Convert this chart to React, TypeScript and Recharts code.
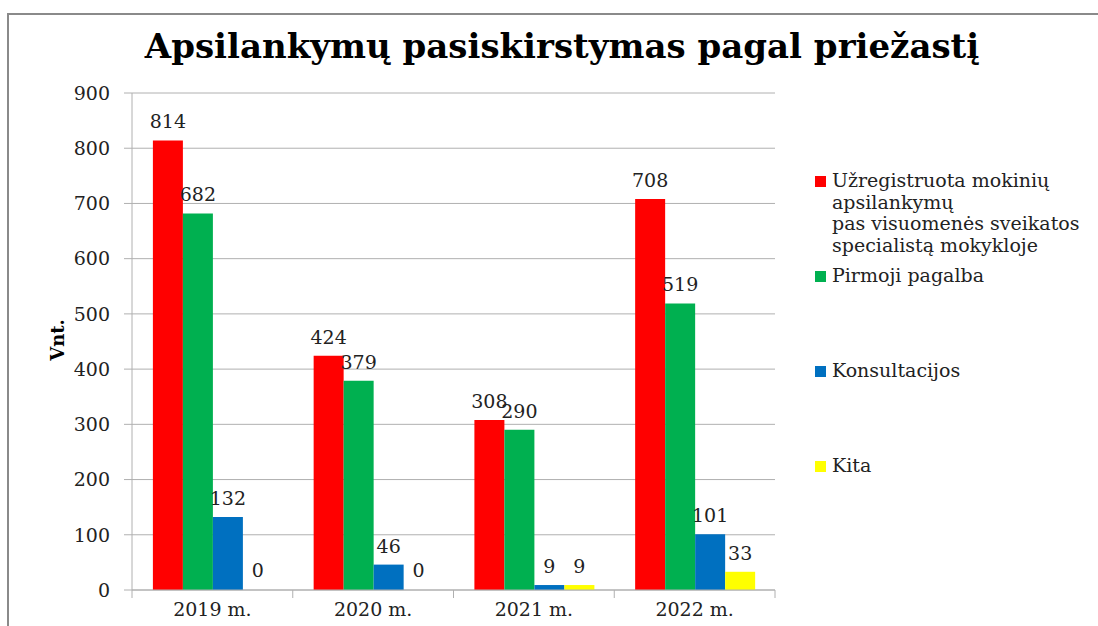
import { Bar, BarChart, CartesianGrid, Cell, LabelList, XAxis, YAxis } from 'recharts';

const years = ['2019 m.', '2020 m.', '2021 m.', '2022 m.'];
const registered = [814, 424, 308, 708];
const firstAid = [682, 379, 290, 519];
const consultations = [132, 46, 9, 101];
const other = [0, 0, 9, 33];
const yTicks = [0, 100, 200, 300, 400, 500, 600, 700, 800, 900];

const series = [
  { key: 'registered', name: 'Užregistruota mokinių\napsilankymų\npas visuomenės sveikatos\nspecialistą mokykloje', color: '#FF0000', values: registered },
  { key: 'firstAid', name: 'Pirmoji pagalba', color: '#00B050', values: firstAid },
  { key: 'consultations', name: 'Konsultacijos', color: '#0070C0', values: consultations },
  { key: 'other', name: 'Kita', color: '#FFFF00', values: other },
];

const data = years.map((year, i) => ({
  year,
  registered: registered[i],
  firstAid: firstAid[i],
  consultations: consultations[i],
  other: other[i],
}));

const W = 1098;
const H = 626;
const M = { top: 93, right: 323, left: 0, bottom: 0 };
const Y_W = 132;
const PLOT_W = W - M.left - M.right - Y_W;
const FONT = '"DejaVu Serif", serif';
const FS = 19;
const TEXT = '#222';
const GRID = '#b0b0b0';

// gaps above each legend entry, to match the uneven spacing of the original
const legendGaps = [0, 9, 73, 74];

const XTick = (props: any) => {
  const { x, y, payload, index } = props;
  const half = PLOT_W / years.length / 2;
  return (
    <g>
      <line x1={x - half} x2={x - half} y1={y - 8} y2={y} stroke={GRID} />
      {index === years.length - 1 && (
        <line x1={x + half} x2={x + half} y1={y - 8} y2={y} stroke={GRID} />
      )}
      <text x={x} y={y + 18} textAnchor="middle" fontFamily={FONT} fontSize={FS} fill={TEXT}>
        {payload.value}
      </text>
    </g>
  );
};

const BarLabel = (props: any) => {
  const { x, y, width, value } = props;
  return (
    <text x={x + width / 2} y={y - 12} textAnchor="middle" fontFamily={FONT} fontSize={FS} fill={TEXT}>
      {value}
    </text>
  );
};

const App = () => {
  return (
    <div style={{ position: 'absolute', left: 0, top: 0, width: W, height: H, background: '#fff', overflow: 'hidden' }}>
      <div
        style={{
          position: 'absolute',
          left: 7,
          top: 13,
          width: W,
          height: H,
          borderTop: '2px solid #8a8a8a',
          borderLeft: '2px solid #8a8a8a',
        }}
      />
      <div
        style={{
          position: 'absolute',
          left: 0,
          top: 26,
          width: 1124,
          textAlign: 'center',
          fontFamily: FONT,
          fontWeight: 'bold',
          fontSize: 34,
          color: '#000',
        }}
      >
        Apsilankymų pasiskirstymas pagal priežastį
      </div>
      <div
        style={{
          position: 'absolute',
          left: 57,
          top: 340,
          transform: 'translate(-50%, -50%) rotate(-90deg)',
          fontFamily: FONT,
          fontWeight: 'bold',
          fontSize: 18,
          color: '#000',
        }}
      >
        Vnt.
      </div>
      <div
        style={{
          position: 'absolute',
          left: 815,
          top: 170,
          width: 280,
          fontFamily: FONT,
          fontSize: FS,
          color: TEXT,
          lineHeight: '21.5px',
        }}
      >
        {series.map((s, i) => (
          <div key={s.key} style={{ display: 'flex', marginTop: legendGaps[i] }}>
            <span
              style={{ width: 11, height: 11, background: s.color, marginTop: 6, marginRight: 6, flex: 'none' }}
            />
            <span style={{ whiteSpace: 'pre-line' }}>{s.name}</span>
          </div>
        ))}
      </div>
      <BarChart width={W} height={H} data={data} margin={M} barCategoryGap="13%" barGap={0}>
        <CartesianGrid vertical={false} stroke={GRID} />
        <XAxis
          dataKey="year"
          height={36}
          tickLine={false}
          stroke={GRID}
          tick={<XTick />}
          interval={0}
        />
        <YAxis
          width={Y_W}
          domain={[0, 900]}
          ticks={yTicks}
          interval={0}
          stroke={GRID}
          tickSize={8}
          tickMargin={14}
          tick={{ fontFamily: FONT, fontSize: FS, fill: TEXT }}
        />
        {series.map(s => (
          <Bar
            key={s.key}
            dataKey={s.key}
            name={s.name}
            fill={s.color}
            minPointSize={(v: number) => (v === 0 ? 1 : 0)}
            isAnimationActive={false}
          >
            {s.values.map((v, i) => (
              <Cell key={i} fill={v === 0 ? 'transparent' : s.color} />
            ))}
            <LabelList dataKey={s.key} content={<BarLabel />} />
          </Bar>
        ))}
      </BarChart>
    </div>
  );
};

export default App;
